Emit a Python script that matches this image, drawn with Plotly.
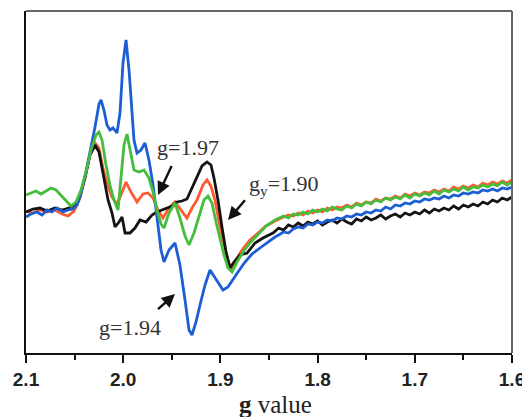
import plotly.graph_objects as go

# ---------------- data (g value, EPR intensity in arbitrary units) ----------------
tail_g = [1.840, 1.835, 1.830, 1.825, 1.820, 1.815, 1.810, 1.805, 1.800, 1.795,
          1.790, 1.785, 1.780, 1.775, 1.770, 1.765, 1.760, 1.755, 1.750, 1.745,
          1.740, 1.735, 1.730, 1.725, 1.720, 1.715, 1.710, 1.705, 1.700, 1.695,
          1.690, 1.685, 1.680, 1.675, 1.670, 1.665, 1.660, 1.655, 1.650, 1.645,
          1.640, 1.635, 1.630, 1.625, 1.620, 1.615, 1.610, 1.605, 1.600]

black_g = [2.100, 2.0928, 2.0856, 2.0784, 2.0702, 2.0630, 2.0558, 2.0496, 2.0444, 2.0393,
           2.0342, 2.0290, 2.0249, 2.0198, 2.0156, 2.0115, 2.0084, 2.0043, 2.0012, 1.9981,
           1.9930, 1.9879, 1.9827, 1.9765, 1.9704, 1.9652, 1.9601, 1.9549, 1.9498, 1.9447,
           1.9395, 1.9344, 1.9292, 1.9241, 1.9189, 1.9138, 1.9097, 1.9066, 1.9025, 1.8984,
           1.8942, 1.8901, 1.8860, 1.8798, 1.8726, 1.8644, 1.8562, 1.8459]
black_i = [141, 144, 145, 142, 145, 143, 145, 148, 158, 175,
           198, 208, 201, 173, 153, 140, 126, 131, 136, 120,
           120, 125, 133, 131, 138, 141, 143, 145, 147, 151,
           152, 154, 165, 176, 187, 191, 188, 175, 153, 126,
           101, 85, 91, 98, 100, 110, 115, 120]
black_tail = [125, 123, 128, 126, 130, 127, 131, 129, 132, 128,
              131, 133, 130, 134, 131, 129, 134, 132, 136, 133,
              135, 138, 134, 137, 139, 136, 140, 138, 141, 139,
              143, 140, 144, 142, 145, 143, 147, 144, 148, 146,
              149, 147, 151, 149, 153, 151, 155, 153, 156]

red_g = [2.100, 2.0928, 2.0856, 2.0784, 2.0702, 2.0630, 2.0568, 2.0506, 2.0444, 2.0393,
         2.0342, 2.0290, 2.0249, 2.0208, 2.0167, 2.0115, 2.0064, 2.0023, 1.9971, 1.9920,
         1.9858, 1.9796, 1.9745, 1.9693, 1.9642, 1.9591, 1.9529, 1.9467, 1.9405, 1.9344,
         1.9292, 1.9241, 1.9179, 1.9138, 1.9097, 1.9056, 1.9014, 1.8973, 1.8932, 1.8891,
         1.8840, 1.8778, 1.8696, 1.8613, 1.8531, 1.8438]
red_i = [142, 140, 143, 141, 143, 139, 137, 142, 155, 175,
         198, 210, 205, 185, 170, 156, 149, 158, 171, 161,
         151, 159, 160, 155, 143, 135, 145, 151, 143, 135,
         145, 153, 168, 173, 167, 153, 131, 113, 96, 83,
         93, 103, 113, 120, 127, 132]
red_tail = [134, 136, 138, 137, 140, 138, 142, 140, 143, 141,
            145, 143, 146, 145, 148, 146, 150, 148, 151, 150,
            154, 152, 155, 154, 157, 155, 159, 157, 160, 158,
            161, 160, 163, 161, 164, 162, 166, 164, 167, 165,
            168, 166, 170, 168, 171, 169, 172, 170, 173]

green_g = [2.100, 2.0949, 2.0897, 2.0846, 2.0794, 2.0743, 2.0691, 2.0640, 2.0588, 2.0537,
           2.0486, 2.0434, 2.0383, 2.0331, 2.0280, 2.0249, 2.0218, 2.0177, 2.0136, 2.0095,
           2.0053, 2.0023, 1.9992, 1.9961, 1.9930, 1.9889, 1.9837, 1.9786, 1.9735, 1.9693,
           1.9652, 1.9611, 1.9580, 1.9529, 1.9467, 1.9416, 1.9364, 1.9323, 1.9272, 1.9220,
           1.9169, 1.9128, 1.9087, 1.9045, 1.9004, 1.8963, 1.8922, 1.8881, 1.8829, 1.8767,
           1.8696, 1.8613, 1.8531, 1.8438]
green_i = [158, 160, 162, 159, 162, 165, 163, 158, 153, 147,
           151, 163, 181, 203, 218, 221, 213, 188, 168, 153,
           143, 173, 208, 219, 205, 183, 181, 183, 175, 161,
           143, 129, 125, 140, 150, 135, 117, 108, 120, 138,
           153, 157, 150, 131, 113, 98, 85, 81, 91, 101,
           110, 119, 127, 133]
green_tail = [135, 137, 135, 139, 138, 141, 139, 143, 141, 144,
              142, 146, 144, 143, 147, 145, 149, 147, 151, 149,
              153, 151, 155, 153, 156, 154, 158, 155, 159, 157,
              160, 158, 162, 159, 163, 161, 164, 162, 166, 163,
              166, 165, 168, 166, 169, 167, 171, 168, 171]

blue_g = [2.100, 2.0949, 2.0887, 2.0835, 2.0784, 2.0733, 2.0681, 2.0619, 2.0568, 2.0516,
          2.0475, 2.0434, 2.0383, 2.0342, 2.0290, 2.0249, 2.0228, 2.0198, 2.0167, 2.0136,
          2.0105, 2.0064, 2.0033, 2.0002, 1.9971, 1.9940, 1.9909, 1.9889, 1.9858, 1.9817,
          1.9776, 1.9735, 1.9693, 1.9652, 1.9611, 1.9580, 1.9529, 1.9467, 1.9416, 1.9364,
          1.9323, 1.9292, 1.9251, 1.9210, 1.9158, 1.9107, 1.9066, 1.9025, 1.8973, 1.8922,
          1.8870, 1.8819, 1.8747, 1.8675, 1.8593, 1.8510, 1.8438]
blue_i = [136, 139, 141, 138, 143, 141, 145, 141, 143, 144,
          148, 160, 181, 200, 226, 249, 253, 243, 228, 223,
          225, 220, 240, 290, 313, 283, 240, 213, 200, 203,
          210, 193, 168, 138, 103, 91, 103, 110, 88, 53,
          23, 18, 31, 48, 68, 83, 77, 70, 63, 66,
          73, 81, 91, 99, 105, 111, 116]
blue_tail = [118, 121, 120, 124, 126, 125, 129, 128, 131, 130,
             133, 132, 135, 134, 137, 136, 139, 138, 141, 140,
             143, 142, 146, 144, 148, 147, 150, 149, 152, 151,
             154, 153, 155, 154, 157, 155, 158, 157, 160, 159,
             161, 160, 163, 162, 164, 162, 165, 164, 166]

x_ticks = [2.1, 2.0, 1.9, 1.8, 1.7, 1.6]
x_tick_labels = ["2.1", "2.0", "1.9", "1.8", "1.7", "1.6"]

series = [
    ("red", red_g, red_i, red_tail, "#ff5a32"),
    ("black", black_g, black_i, black_tail, "#141414"),
    ("blue", blue_g, blue_i, blue_tail, "#1c5ed4"),
    ("green", green_g, green_i, green_tail, "#46bd3c"),
]

fig = go.Figure()
for name, g, i, tail, col in series:
    fig.add_trace(go.Scatter(
        x=g + tail_g, y=i + tail, mode="lines", name=name,
        line=dict(color=col, width=2.8), showlegend=False, hoverinfo="skip"))

serif = "Liberation Serif, Times New Roman, serif"
txt_col = "#333333"

# text labels
fig.add_annotation(x=1.9333, y=206, xref="x", yref="y", text="g=1.97",
                   showarrow=False, font=dict(family=serif, size=22, color=txt_col))
fig.add_annotation(x=1.8726, y=168, xref="x", yref="y", xanchor="left",
                   text="g<sub>y</sub>=1.90", showarrow=False,
                   font=dict(family=serif, size=22, color=txt_col))
fig.add_annotation(x=1.993, y=26, xref="x", yref="y", text="g=1.94",
                   showarrow=False, font=dict(family=serif, size=22, color=txt_col))

# arrows
for hx, hy, ax, ay in [(1.9642, 158, 15, -32), (1.8922, 133, 19, -22), (1.9467, 59, -19, 17)]:
    fig.add_annotation(x=hx, y=hy, xref="x", yref="y", ax=ax, ay=ay, text=" ",
                       showarrow=True, arrowhead=2, arrowsize=1.1, arrowwidth=2.4,
                       arrowcolor="#111111", font=dict(size=2))

# axis title
fig.add_annotation(x=0.514, y=-0.152, xref="paper", yref="paper",
                   xanchor="center", yanchor="middle",
                   text="<b>g</b> value", showarrow=False,
                   font=dict(family=serif, size=25, color="#222222"))

# top and right frame lines (gray)
fig.add_shape(type="line", xref="paper", yref="paper", x0=0, x1=1, y0=1, y1=1,
              line=dict(color="#666666", width=2))
fig.add_shape(type="line", xref="paper", yref="paper", x0=1, x1=1, y0=0, y1=1,
              line=dict(color="#666666", width=2))

# the page places the figure 8 px from the top-left corner, so the figure is
# sized 522x409 to keep the plot area where the reference has it
fig.update_layout(
    template="none",
    width=522, height=409,
    margin=dict(l=18, r=18, t=3, b=64, autoexpand=False),
    paper_bgcolor="white", plot_bgcolor="white",
    xaxis=dict(range=[2.1, 1.6], tickvals=x_ticks, ticktext=x_tick_labels,
               automargin=False,
               showgrid=False, zeroline=False, showline=True, linecolor="#111111",
               linewidth=2, ticks="outside", ticklen=8, tickwidth=2, tickcolor="#111111",
               tickfont=dict(family="Liberation Sans, Arial, sans-serif", size=19,
                             color="#222222", weight="bold"),
               minor=dict(dtick=0.05, ticks="outside", ticklen=5, tickwidth=2,
                          tickcolor="#111111", showgrid=False)),
    yaxis=dict(range=[0, 342], automargin=False, showgrid=False, zeroline=False,
               showline=True, linecolor="#111111", linewidth=2,
               showticklabels=False, ticks=""),
)

fig.write_html("out.html")
